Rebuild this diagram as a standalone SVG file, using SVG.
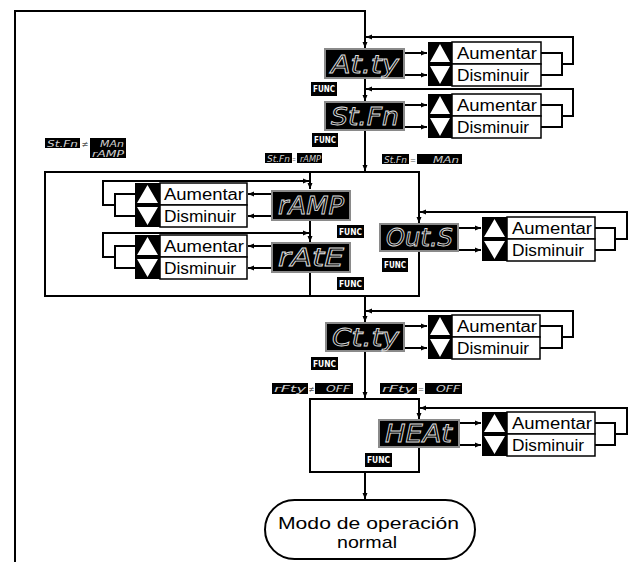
<svg xmlns="http://www.w3.org/2000/svg" width="629" height="562" viewBox="0 0 629 562">
<defs>
<marker id="ah" markerWidth="6" markerHeight="6" refX="6" refY="3" orient="auto" markerUnits="userSpaceOnUse"><path d="M0,0.5 L6,3 L0,5.5 z" fill="#000"/></marker>
<style>
.ln{fill:none;stroke:#000;stroke-width:2}
.ar{fill:none;stroke:#000;stroke-width:2;marker-end:url(#ah)}
.box{fill:none;stroke:#000;stroke-width:2}
.disp{fill:#000;stroke:#8a8a8a;stroke-width:2}
.seg{font-family:"DejaVu Sans",sans-serif;font-style:italic;fill:none;stroke:#e0e0e0;stroke-width:0.8}
.bd{fill:#000}
.sseg{font-family:"DejaVu Sans",sans-serif;font-style:italic;fill:#d0d0d0;font-size:9px}
.fn{font-family:"DejaVu Sans",sans-serif;font-weight:bold;fill:#fff;font-size:8px}
.ud{fill:#fff;stroke:#000;stroke-width:1.5}
.udb{fill:#000}
.tri{fill:#fff}
.lbl{font-family:"Liberation Sans",Arial,sans-serif;font-size:16px;fill:#000}
.op{font-family:"Liberation Sans",Arial,sans-serif;font-size:17px;fill:#000}
.eq{font-family:"DejaVu Sans",sans-serif;font-size:9px;fill:#555}
</style>
</defs>
<rect width="629" height="562" fill="#fff"/>

<g id="connectors">
<path class="ar" d="M15,562 V11 H365 V48"/>
<path class="ar" d="M365,79 V101"/>
<path class="ar" d="M404,53 H427"/>
<path class="ar" d="M404,75 H427"/>
<path class="ln" d="M541,53 H562 V75 H541"/>
<path class="ar" d="M562,64 H573 V37 H366"/>
<path class="ar" d="M365,131 V171"/>
<path class="ar" d="M404,105 H427"/>
<path class="ar" d="M404,127 H427"/>
<path class="ln" d="M541,105 H562 V127 H541"/>
<path class="ar" d="M562,116 H573 V89 H366"/>
<path class="ar" d="M310,172 V189"/>
<path class="ar" d="M310,221 V242"/>
<path class="ln" d="M310,273 V296"/>
<path class="ar" d="M135,194 H115 V216 H135 M115,205 H103 V181 H309"/>
<path class="ar" d="M272,194 H248"/>
<path class="ar" d="M272,216 H248"/>
<path class="ar" d="M135,246 H115 V268 H135 M115,257 H103 V233 H309"/>
<path class="ar" d="M272,246 H248"/>
<path class="ar" d="M272,268 H248"/>
<path class="ar" d="M419,172 V223"/>
<path class="ln" d="M419,251 V296"/>
<path class="ar" d="M458,228 H481"/>
<path class="ar" d="M458,250 H481"/>
<path class="ln" d="M595,228 H615 V250 H595"/>
<path class="ar" d="M615,239 H627 V212 H420"/>
<path class="ar" d="M365,296 V322"/>
<path class="ar" d="M404,326 H427"/>
<path class="ar" d="M404,348 H427"/>
<path class="ln" d="M540,326 H562 V348 H540"/>
<path class="ar" d="M562,337 H573 V311 H366"/>
<path class="ar" d="M365,352 V398"/>
<path class="ar" d="M419,399 V419"/>
<path class="ln" d="M419,448 V472"/>
<path class="ar" d="M459,423 H481"/>
<path class="ar" d="M459,445 H481"/>
<path class="ln" d="M595,423 H615 V445 H595"/>
<path class="ar" d="M615,434 H627 V408 H420"/>
<path class="ar" d="M365,472 V499"/>
</g>

<g id="group-ramp">
<rect class="box" x="45" y="172" width="374" height="124"/>
</g>
<g id="group-heat">
<rect class="box" x="310" y="399" width="109" height="73"/>
</g>

<g id="disp-atty"><rect class="disp" x="325" y="49" width="79" height="29"/><text class="seg" x="331" y="73" font-size="24" textLength="68" lengthAdjust="spacingAndGlyphs">At.ty</text></g>
<g id="disp-stfn"><rect class="disp" x="325" y="102" width="79" height="28"/><text class="seg" x="331" y="125" font-size="24" textLength="68" lengthAdjust="spacingAndGlyphs">St.Fn</text></g>
<g id="disp-ramp"><rect class="disp" x="272" y="191" width="78" height="29"/><text class="seg" x="278" y="214" font-size="24" textLength="66" lengthAdjust="spacingAndGlyphs">rAMP</text></g>
<g id="disp-rate"><rect class="disp" x="272" y="243" width="78" height="29"/><text class="seg" x="278" y="266" font-size="24" textLength="66" lengthAdjust="spacingAndGlyphs">rAtE</text></g>
<g id="disp-outs"><rect class="disp" x="380" y="224" width="78" height="27"/><text class="seg" x="386" y="246" font-size="24" textLength="67" lengthAdjust="spacingAndGlyphs">Out.S</text></g>
<g id="disp-ctty"><rect class="disp" x="326" y="323" width="78" height="28"/><text class="seg" x="332" y="346" font-size="24" textLength="67" lengthAdjust="spacingAndGlyphs">Ct.ty</text></g>
<g id="disp-heat"><rect class="disp" x="379" y="420" width="80" height="27"/><text class="seg" x="385" y="442" font-size="24" textLength="67" lengthAdjust="spacingAndGlyphs">HEAt</text></g>

<g id="ud-atty"><rect class="udb" x="428" y="42" width="24" height="44"/><path class="tri" d="M430,62 H450 L440,44 z M430,66 H450 L440,84 z"/><rect class="ud" x="452" y="42" width="89" height="22"/><rect class="ud" x="452" y="64" width="89" height="22"/><text class="lbl" x="457" y="58.5" textLength="80" lengthAdjust="spacingAndGlyphs">Aumentar</text><text class="lbl" x="457" y="80.5" textLength="72" lengthAdjust="spacingAndGlyphs">Disminuir</text></g>
<g id="ud-stfn"><rect class="udb" x="428" y="94" width="24" height="44"/><path class="tri" d="M430,114 H450 L440,96 z M430,118 H450 L440,136 z"/><rect class="ud" x="452" y="94" width="89" height="22"/><rect class="ud" x="452" y="116" width="89" height="22"/><text class="lbl" x="457" y="110.5" textLength="80" lengthAdjust="spacingAndGlyphs">Aumentar</text><text class="lbl" x="457" y="132.5" textLength="72" lengthAdjust="spacingAndGlyphs">Disminuir</text></g>
<g id="ud-ramp"><rect class="udb" x="135" y="183" width="25" height="44"/><path class="tri" d="M137,203 H158 L147.5,185 z M137,207 H158 L147.5,225 z"/><rect class="ud" x="160" y="183" width="87" height="22"/><rect class="ud" x="160" y="205" width="87" height="22"/><text class="lbl" x="164" y="199.5" textLength="80" lengthAdjust="spacingAndGlyphs">Aumentar</text><text class="lbl" x="164" y="221.5" textLength="72" lengthAdjust="spacingAndGlyphs">Disminuir</text></g>
<g id="ud-rate"><rect class="udb" x="135" y="235" width="25" height="44"/><path class="tri" d="M137,255 H158 L147.5,237 z M137,259 H158 L147.5,277 z"/><rect class="ud" x="160" y="235" width="87" height="22"/><rect class="ud" x="160" y="257" width="87" height="22"/><text class="lbl" x="164" y="251.5" textLength="80" lengthAdjust="spacingAndGlyphs">Aumentar</text><text class="lbl" x="164" y="273.5" textLength="72" lengthAdjust="spacingAndGlyphs">Disminuir</text></g>
<g id="ud-outs"><rect class="udb" x="482" y="217" width="25" height="44"/><path class="tri" d="M484,237 H505 L494.5,219 z M484,241 H505 L494.5,259 z"/><rect class="ud" x="507" y="217" width="88" height="22"/><rect class="ud" x="507" y="239" width="88" height="22"/><text class="lbl" x="512" y="233.5" textLength="80" lengthAdjust="spacingAndGlyphs">Aumentar</text><text class="lbl" x="512" y="255.5" textLength="72" lengthAdjust="spacingAndGlyphs">Disminuir</text></g>
<g id="ud-ctty"><rect class="udb" x="428" y="315" width="24" height="44"/><path class="tri" d="M430,335 H450 L440,317 z M430,339 H450 L440,357 z"/><rect class="ud" x="452" y="315" width="88" height="22"/><rect class="ud" x="452" y="337" width="88" height="22"/><text class="lbl" x="457" y="331.5" textLength="80" lengthAdjust="spacingAndGlyphs">Aumentar</text><text class="lbl" x="457" y="353.5" textLength="72" lengthAdjust="spacingAndGlyphs">Disminuir</text></g>
<g id="ud-heat"><rect class="udb" x="482" y="412" width="25" height="44"/><path class="tri" d="M484,432 H505 L494.5,414 z M484,436 H505 L494.5,454 z"/><rect class="ud" x="507" y="412" width="88" height="22"/><rect class="ud" x="507" y="434" width="88" height="22"/><text class="lbl" x="512" y="428.5" textLength="80" lengthAdjust="spacingAndGlyphs">Aumentar</text><text class="lbl" x="512" y="450.5" textLength="72" lengthAdjust="spacingAndGlyphs">Disminuir</text></g>

<g id="func-1"><rect class="bd" x="311" y="82" width="26" height="14"/><text class="fn" x="313" y="92" textLength="22" lengthAdjust="spacingAndGlyphs">FUNC</text></g>
<g id="func-2"><rect class="bd" x="312" y="133" width="26" height="14"/><text class="fn" x="314" y="143" textLength="22" lengthAdjust="spacingAndGlyphs">FUNC</text></g>
<g id="func-3"><rect class="bd" x="337" y="225" width="27" height="13"/><text class="fn" x="339" y="234.5" textLength="23" lengthAdjust="spacingAndGlyphs">FUNC</text></g>
<g id="func-4"><rect class="bd" x="337" y="277" width="27" height="13"/><text class="fn" x="339" y="286.5" textLength="23" lengthAdjust="spacingAndGlyphs">FUNC</text></g>
<g id="func-5"><rect class="bd" x="382" y="258" width="26" height="14"/><text class="fn" x="384" y="268" textLength="22" lengthAdjust="spacingAndGlyphs">FUNC</text></g>
<g id="func-6"><rect class="bd" x="311" y="357" width="27" height="13"/><text class="fn" x="313" y="366.5" textLength="23" lengthAdjust="spacingAndGlyphs">FUNC</text></g>
<g id="func-7"><rect class="bd" x="365" y="453" width="27" height="14"/><text class="fn" x="367" y="463" textLength="23" lengthAdjust="spacingAndGlyphs">FUNC</text></g>

<g id="cond-stfn-ne">
<rect class="bd" x="45" y="138" width="35" height="10"/><text class="sseg" x="47" y="146.5" textLength="31" lengthAdjust="spacingAndGlyphs">St.Fn</text>
<text class="eq" x="81.5" y="146.5" font-size="10" textLength="7" lengthAdjust="spacingAndGlyphs">≠</text>
<rect class="bd" x="90" y="138" width="36" height="10"/><text class="sseg" x="100" y="146.5" textLength="24" lengthAdjust="spacingAndGlyphs">MAn</text>
<rect class="bd" x="90" y="148" width="36" height="10"/><text class="sseg" x="92" y="156.5" textLength="32" lengthAdjust="spacingAndGlyphs">rAMP</text>
</g>
<g id="cond-stfn-ramp">
<rect class="bd" x="265" y="153" width="27" height="10"/><text class="sseg" x="267" y="161.5" textLength="23" lengthAdjust="spacingAndGlyphs">St.Fn</text>
<text class="eq" x="292.2" y="161.5" textLength="3.6" lengthAdjust="spacingAndGlyphs">=</text>
<rect class="bd" x="297" y="153" width="25" height="10"/><text class="sseg" x="300" y="161.5" textLength="21" lengthAdjust="spacingAndGlyphs">rAMP</text>
</g>
<g id="cond-stfn-man">
<rect class="bd" x="382" y="154" width="27" height="10"/><text class="sseg" x="384" y="162.5" textLength="23" lengthAdjust="spacingAndGlyphs">St.Fn</text>
<text class="eq" x="410" y="162.5" textLength="6" lengthAdjust="spacingAndGlyphs">=</text>
<rect class="bd" x="417" y="154" width="45" height="10"/><text class="sseg" x="433" y="162.5" textLength="26" lengthAdjust="spacingAndGlyphs">MAn</text>
</g>
<g id="cond-rfty-ne">
<rect class="bd" x="272" y="383" width="36" height="11"/><text class="sseg" x="274" y="392" textLength="32" lengthAdjust="spacingAndGlyphs">rFty</text>
<text class="eq" x="308.5" y="392" textLength="6" lengthAdjust="spacingAndGlyphs">≠</text>
<rect class="bd" x="315" y="383" width="38" height="11"/><text class="sseg" x="326" y="392" textLength="24" lengthAdjust="spacingAndGlyphs">OFF</text>
</g>
<g id="cond-rfty-eq">
<rect class="bd" x="380" y="383" width="37" height="11"/><text class="sseg" x="382" y="392" textLength="32" lengthAdjust="spacingAndGlyphs">rFty</text>
<text class="eq" x="418" y="392" textLength="6" lengthAdjust="spacingAndGlyphs">=</text>
<rect class="bd" x="425" y="383" width="37" height="11"/><text class="sseg" x="436" y="392" textLength="24" lengthAdjust="spacingAndGlyphs">OFF</text>
</g>

<g id="normal-mode">
<rect x="265" y="500" width="210" height="59" rx="29.5" ry="29.5" fill="#fff" stroke="#000" stroke-width="2"/>
<text class="op" x="278" y="529" textLength="181" lengthAdjust="spacingAndGlyphs">Modo de operación</text>
<text class="op" x="337" y="548" textLength="60" lengthAdjust="spacingAndGlyphs">normal</text>
</g>
</svg>
